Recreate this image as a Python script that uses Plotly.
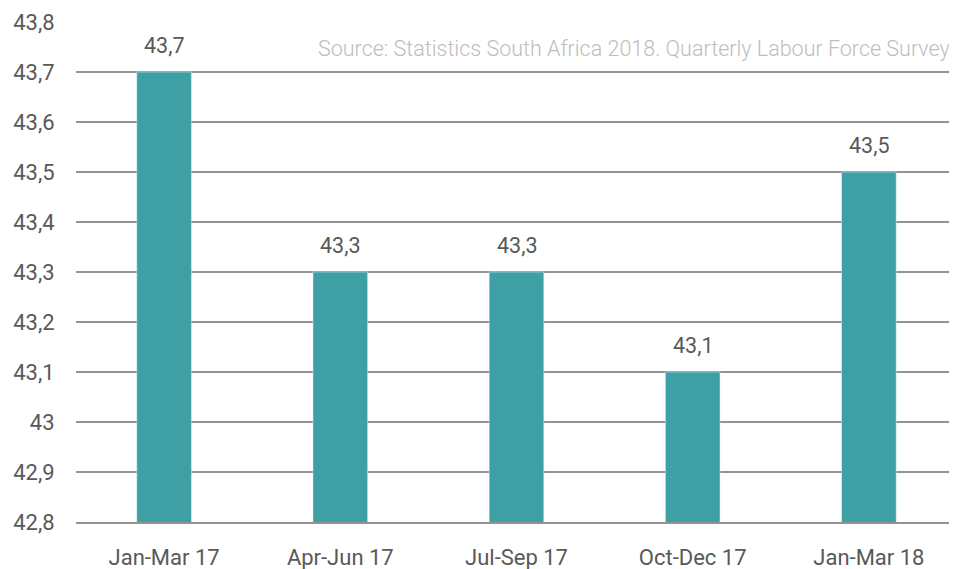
import plotly.graph_objects as go

quarters = ['Jan-Mar 17', 'Apr-Jun 17', 'Jul-Sep 17', 'Oct-Dec 17', 'Jan-Mar 18']
values = [43.7, 43.3, 43.3, 43.1, 43.5]
labels = ['43,7', '43,3', '43,3', '43,1', '43,5']

fig = go.Figure(data=[
    go.Bar(
        x=quarters,
        y=values,
        marker_color='#3ea0a4',
        hoverinfo='none'
    )
])

# value labels above the bars, placed via the data axes
value_notes = [
    dict(x=q, y=v, text=t, xref='x', yref='y', yshift=27,
         showarrow=False, yanchor='middle',
         font=dict(family='Roboto', size=21.5, color='#595959'))
    for q, v, t in zip(quarters, values, labels)
]

source_note = dict(
    text='Source: Statistics South Africa 2018. Quarterly Labour Force Survey',
    xref='paper', yref='paper', x=0.994, y=0.948,
    xanchor='right', yanchor='middle', showarrow=False,
    font=dict(family='Roboto', size=21.5, color='#bdbdbd', weight=300)
)

# the page body has an 8px margin, so the figure is sized to fill the rest
fig.update_layout(
    width=949,
    height=561,
    separators=', ',
    bargap=0.69,
    plot_bgcolor='white',
    paper_bgcolor='white',
    showlegend=False,
    margin=dict(l=68, r=0, t=14, b=47),
    font=dict(family='Roboto', size=22, color='#595959'),
    xaxis=dict(
        showgrid=False,
        showline=True,
        linecolor='#939393',
        linewidth=2,
        ticks='outside',
        ticklen=15,
        tickcolor='rgba(0,0,0,0)',
        tickfont=dict(size=22, color='#595959'),
    ),
    yaxis=dict(
        range=[42.8, 43.8],
        dtick=0.1,
        showgrid=True,
        gridcolor='#939393',
        gridwidth=2,
        zeroline=False,
        ticks='outside',
        ticklen=16,
        tickcolor='rgba(0,0,0,0)',
        tickfont=dict(size=22, color='#595959'),
    ),
    annotations=value_notes + [source_note]
)

fig.write_html('out.html')
